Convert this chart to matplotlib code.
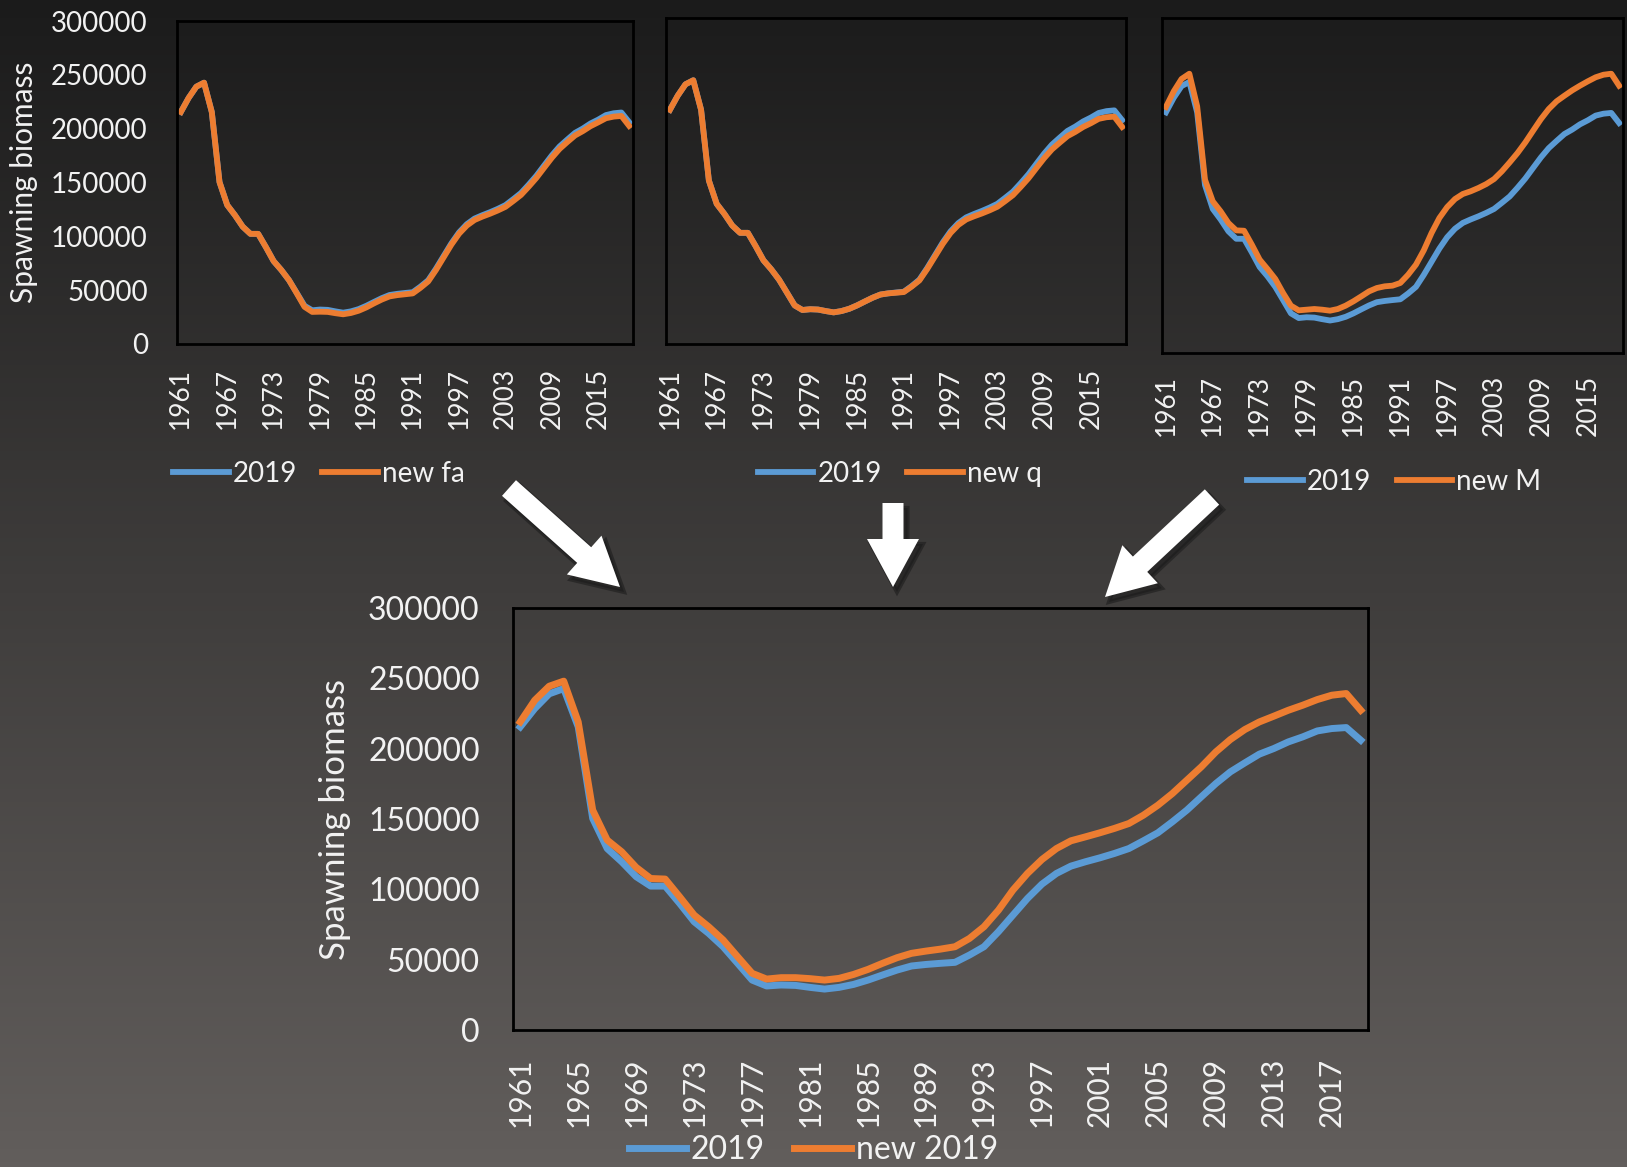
import numpy as np
import matplotlib
matplotlib.use('Agg')
import matplotlib.pyplot as plt
from matplotlib.patches import FancyArrow

plt.rcParams['font.family'] = ['Lato', 'DejaVu Sans']

# 데이터
years = list(range(1961, 2020))

sb_2019 = [215500, 228500, 239000, 242700, 215500, 150400, 129000, 119600, 109000, 102300,
           102300, 90000, 77000, 68700, 59200, 47400, 35500, 31300, 32000, 31700,
           30300, 29100, 30300, 32400, 35500, 39100, 42600, 45500, 46600, 47400,
           48100, 53300, 59200, 69900, 81700, 93500, 103700, 111300, 116500, 119600,
           122400, 125500, 129000, 134500, 140200, 148000, 156300, 165800, 175200, 183500,
           189900, 196100, 200100, 204800, 208400, 212600, 214300, 215000, 206000]

sb_new_fa = [215500, 228500, 239000, 242700, 215500, 150400, 129000, 119600, 109000, 102300,
             102300, 90000, 77000, 68700, 59200, 47000, 34500, 29800, 30000, 29800,
             28600, 27600, 28800, 30900, 34000, 37800, 41300, 44200, 45400, 46200,
             47000, 52200, 58100, 68700, 80500, 92300, 102500, 110000, 115200, 118300,
             121000, 124000, 127400, 132800, 138400, 146100, 154300, 163700, 173000, 181200,
             187600, 193700, 197700, 202300, 205900, 209700, 211200, 211800, 202600]

sb_new_q = [215500, 228500, 239000, 242700, 215500, 150400, 129000, 119600, 109000, 102300,
            102300, 90000, 77000, 68700, 59200, 47400, 35500, 31300, 32000, 31700,
            30300, 29100, 30300, 32400, 35500, 39100, 42600, 45500, 46600, 47200,
            47800, 52800, 58500, 69000, 80600, 92200, 102200, 109600, 114600, 117500,
            120100, 123000, 126300, 131500, 137000, 144600, 152600, 161900, 171000, 179100,
            185300, 191300, 195200, 199700, 203200, 207200, 208700, 209200, 199800]

sb_new_M = [220300, 234300, 245400, 250100, 220900, 155200, 135800, 126900, 116400, 109800,
            109500, 97000, 83600, 75200, 66300, 53700, 42400, 38200, 38800, 39400,
            38800, 37900, 39400, 42400, 46300, 50700, 55200, 58200, 59700, 60300,
            62700, 70100, 79100, 91900, 107500, 120900, 130700, 137900, 142400, 144800,
            147800, 151300, 155800, 162700, 170700, 179100, 188600, 199100, 209500, 218500,
            225400, 230400, 235200, 239400, 243300, 246900, 249200, 250100, 239400]

sb_new_2019 = [219000, 234400, 244400, 248000, 219000, 156300, 135000, 126700, 115600, 107700,
               107300, 94700, 81700, 73400, 64000, 52100, 40300, 36200, 37200, 37200,
               36500, 35500, 36700, 39500, 43100, 47400, 51400, 54500, 56100, 57500,
               59200, 65100, 73400, 85200, 99500, 111300, 121200, 129000, 134500, 137300,
               140200, 143300, 146800, 152700, 159800, 168100, 177600, 187100, 197700, 206500,
               213600, 219000, 223100, 227300, 230900, 234900, 238000, 239200, 227300]

y_ticks = [0, 50000, 100000, 150000, 200000, 250000, 300000]

BLUE = '#5B9BD5'
ORANGE = '#ED7D31'
TXT = '#f2f2f2'

W, H = 1627, 1167
fig = plt.figure(figsize=(W / 100, H / 100), dpi=100)

# 배경 그라데이션 + 화살표
bg = fig.add_axes([0, 0, 1, 1], zorder=-5)
grad = np.linspace(0, 1, 256)[:, None]
top_c = np.array([0x1b, 0x1b, 0x1b]) / 255
bot_c = np.array([0x62, 0x5e, 0x5c]) / 255
img = top_c[None, None, :] * (1 - grad[:, :, None]) + bot_c[None, None, :] * grad[:, :, None]
bg.imshow(img, extent=[0, W, H, 0], aspect='auto')
bg.set_xlim(0, W)
bg.set_ylim(H, 0)
bg.axis('off')


def arrow(x0, y0, x1, y1):
    dx, dy = x1 - x0, y1 - y0
    # 그림자
    bg.add_patch(FancyArrow(x0 + 4, y0 + 5, dx, dy, width=21, head_width=52, head_length=48,
                            length_includes_head=True, color='#1a1a1a', alpha=0.55, lw=3))
    bg.add_patch(FancyArrow(x0, y0, dx, dy, width=21, head_width=52, head_length=48,
                            length_includes_head=True, color='white', lw=0))


arrow(509, 488, 620, 587)
arrow(893, 503, 893, 587)
arrow(1212, 497, 1105, 597)

x = np.arange(len(years))


def panel(rect, s1, s2, lab2, step, tick_fs, ylab, lw, leg_xy, leg_fs, hl):
    ax = fig.add_axes(rect)
    ax.set_facecolor('none')
    ax.plot(x, s1, color=BLUE, lw=lw, label='2019', solid_joinstyle='round')
    ax.plot(x, s2, color=ORANGE, lw=lw, label=lab2, solid_joinstyle='round')
    ax.set_xlim(-0.5, len(years) - 0.5)
    ax.set_ylim(0, 300000)
    ax.set_xticks(x[::step])
    ax.set_xticklabels([str(y) for y in years[::step]], rotation=90,
                       fontsize=tick_fs[0], color=TXT)
    ax.tick_params(axis='both', length=0)
    ax.tick_params(axis='x', pad=tick_fs[2])
    if ylab:
        ax.set_yticks(y_ticks)
        ax.set_yticklabels([str(v) for v in y_ticks], fontsize=tick_fs[1], color=TXT)
        ax.tick_params(axis='y', pad=tick_fs[3])
        ax.set_ylabel('Spawning biomass', fontsize=ylab, color=TXT)
    else:
        ax.set_yticks([])
    for sp in ax.spines.values():
        sp.set_color('black')
        sp.set_linewidth(2)
    ax.legend(loc='center', bbox_to_anchor=leg_xy, bbox_transform=fig.transFigure,
              ncol=2, frameon=False, fontsize=leg_fs, labelcolor=TXT,
              handlelength=hl, handletextpad=0.15, columnspacing=0.9)
    return ax


def frac(x0, y0, x1, y1):
    return [x0 / W, 1 - y1 / H, (x1 - x0) / W, (y1 - y0) / H]


ax1 = panel(frac(177, 21, 633, 344), sb_2019, sb_new_fa, 'new fa', 6,
            (19, 20, 17, 21), 21.5, 4.2, (0.196, 0.594), 20, 2.0)
ax1.yaxis.set_label_coords(-0.305, 0.5)

panel(frac(666, 18, 1126, 344), sb_2019, sb_new_q, 'new q', 6,
      (19, 20, 17, 21), None, 4.2, (0.553, 0.594), 20, 2.0)

panel(frac(1162, 18, 1623, 353), sb_2019, sb_new_M, 'new M', 6,
      (19, 20, 16, 21), None, 4.2, (0.857, 0.587), 20, 2.0)

ax4 = panel(frac(513, 608, 1368, 1030), sb_2019, sb_new_2019, 'new 2019', 4,
            (21.5, 23, 20, 24), 25, 5.0, (0.5, 0.0146), 23, 1.8)
ax4.yaxis.set_label_coords(-0.19, 0.5)

fig.savefig('out.png', dpi=100)
